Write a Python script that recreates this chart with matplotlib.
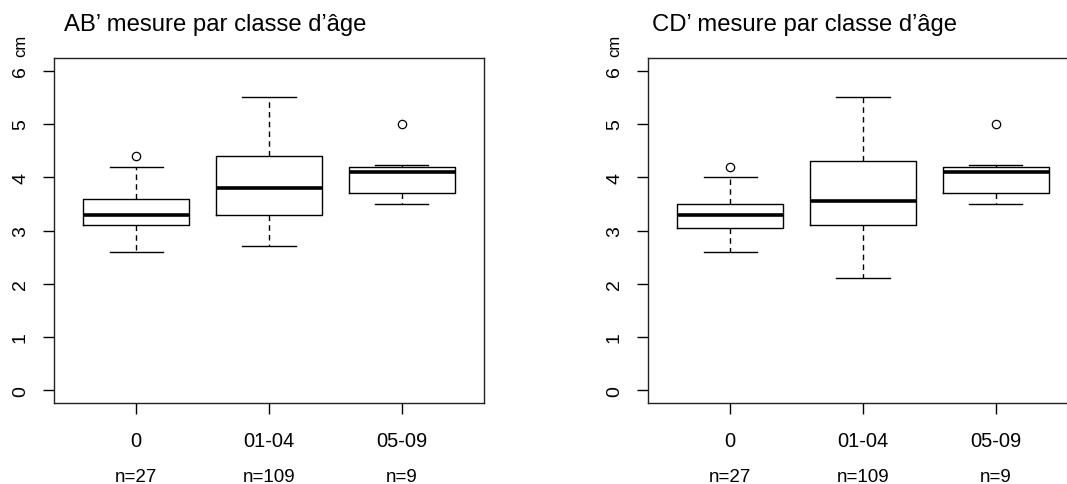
import matplotlib.pyplot as plt

plt.rcParams['font.family'] = ['Liberation Sans', 'DejaVu Sans']

groups = ["0", "01-04", "05-09"]
counts = [27, 109, 9]

# AB' (cm): lower whisker, Q1, median, Q3, upper whisker, outliers
ab_low = [2.6, 2.7, 3.5]
ab_q1 = [3.1, 3.3, 3.7]
ab_med = [3.3, 3.8, 4.1]
ab_q3 = [3.6, 4.4, 4.2]
ab_high = [4.2, 5.5, 4.23]
ab_out = [[4.4], [], [5.0]]

# CD' (cm)
cd_low = [2.6, 2.1, 3.5]
cd_q1 = [3.05, 3.1, 3.7]
cd_med = [3.3, 3.55, 4.1]
cd_q3 = [3.5, 4.3, 4.2]
cd_high = [4.0, 5.5, 4.23]
cd_out = [[4.2], [], [5.0]]

fig = plt.figure(figsize=(10.67, 4.85), dpi=100)

panels = [
    ("AB\u2019 mesure par classe d\u2019\u00e2ge", ab_low, ab_q1, ab_med, ab_q3, ab_high, ab_out, 54, 64),
    ("CD\u2019 mesure par classe d\u2019\u00e2ge", cd_low, cd_q1, cd_med, cd_q3, cd_high, cd_out, 648, 652),
]

for title, lo, q1, med, q3, hi, out, left_px, title_px in panels:
    ax = fig.add_axes([left_px / 1067, 81 / 485, 430 / 1067, 345 / 485])
    stats = []
    for i in range(len(groups)):
        stats.append(dict(whislo=lo[i], q1=q1[i], med=med[i], q3=q3[i],
                          whishi=hi[i], fliers=out[i]))
    ax.bxp(stats, positions=[1, 2, 3], widths=0.8, showfliers=True,
           boxprops=dict(color="black", linewidth=1.0),
           medianprops=dict(color="black", linewidth=2.6, solid_capstyle="butt"),
           whiskerprops=dict(color="black", linewidth=1.0, linestyle=(0, (4, 3))),
           capprops=dict(color="black", linewidth=1.0),
           capwidths=0.4,
           flierprops=dict(marker="o", markersize=6, markerfacecolor="none",
                           markeredgecolor="black", markeredgewidth=0.9))
    ax.set_xlim(0.38, 3.62)
    ax.set_ylim(-0.24, 6.24)
    ax.set_yticks(range(0, 7))
    ax.set_yticklabels([str(v) for v in range(0, 7)], rotation=90, va="center", fontsize=14)
    ax.set_xticks([1, 2, 3])
    ax.set_xticklabels(groups, fontsize=14.5)
    ax.tick_params(axis="y", length=8, width=1, pad=10)
    ax.tick_params(axis="x", length=8, width=1, pad=12)
    for s in ax.spines.values():
        s.set_linewidth(1.0)
        s.set_color("#222222")
    for i, n in enumerate(counts):
        ax.text(i + 1, -0.24 - 73.5 / 53.2, "n=%d" % n, ha="center", va="center", fontsize=13.5)
    fig.text(title_px / 1067, 1 - 25 / 485, title, ha="left", va="center", fontsize=17.2)
    fig.text((left_px - 33) / 1067, 1 - 46 / 485, "cm", rotation=90, ha="center", va="center", fontsize=12)

fig.savefig("out.png", dpi=100)
